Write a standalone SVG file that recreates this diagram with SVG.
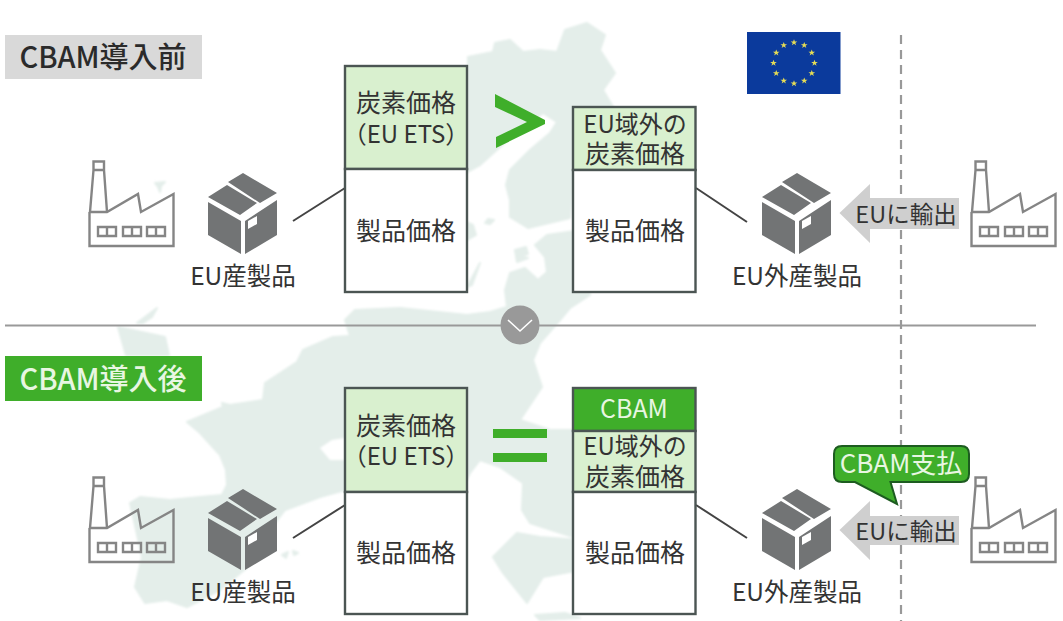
<svg xmlns="http://www.w3.org/2000/svg" width="1063" height="621" viewBox="0 0 1063 621">
<style>
text{font-family:"Noto Sans CJK JP","Noto Sans",sans-serif;fill:#333;text-anchor:middle}
.l{font-size:25px}
.ls{font-size:24px}
.m{font-size:24.500px}
.ex{font-size:23.500px}
.co{font-size:26px}
.w{fill:#e8f6e2}
.t{font-size:29px;font-weight:500}
.cell{stroke:#4b5553;stroke-width:2.400}
.pale{fill:#d9f0cf}
.wh{fill:#fff}
.gr{fill:#3fae2a}
.map{fill:#e4eeea;stroke:#e4eeea;stroke-width:2;stroke-linejoin:round}
.cn{stroke:#444;stroke-width:2;fill:none}
.fa{fill:none;stroke:#858585;stroke-width:2.400}
.bx{fill:#727475}
.arr{fill:#cfcfcf}
.star{fill:#e6dc55}
</style>
<defs>
<filter id="soft" x="-5%" y="-5%" width="110%" height="110%"><feGaussianBlur stdDeviation="1.200"/></filter>
<g id="factory">
<path class="fa" d="M93.500 161.500H104V170H93.500ZM93.500 170L90 212M104 170L107 212M89.500 212H107L138 194L141 212L173.500 194V246H89.500V212"/>
<path class="fa" d="M98 227H116V236H98ZM107 227V236M123 227H141V236H123ZM132 227V236M147 227H165V236H147ZM156 227V236"/>
</g>
<g id="box">
<path class="bx" d="M208 202L241 221V254L208 235ZM245 221L277 200V235L245 254ZM208 197L227 185L257 203L240 215ZM228 182L243 173L277 193L260 203Z"/>
<path fill="#fff" d="M248 221L257 216V224L248 229Z"/>
</g>
<polygon id="star" class="star" points="0,-3.300 .9,-1.100 3.300,-1.100 1.300,.4 2.100,2.800 0,1.300 -2.100,2.800 -1.300,.4 -3.300,-1.100 -.9,-1.100"/>
</defs>

<g id="map" filter="url(#soft)">
<path class="map" d="M468 57L493 52L495 43L510 40L523 52L540 50L557 52L565 30L587 23L605 35L600 50L615 73L603 90L613 107L613 130L573 175L570 218L528 228L510 217L510 200L506 185L510 170L530 150L550 133L557 122L543 113L510 138L480 165L467 172Z"/>
<path class="map" d="M535 245L547 235L575 231L590 295L570 308L560 320L540 343L533 360L542 387L520 420L550 430L580 430L580 570L543 577L527 603L503 573L493 557L517 533L540 537L580 540L573 537L530 523L522 510L523 483L500 467L480 460L470 473L460 492L345 490L320 497L285 510L262 540L250 565L220 590L187 607L167 600L145 603L135 587L142 557L130 503L140 497L170 500L200 497L222 495L227 485L226 470L220 455L200 433L187 422L223 407L222 403L230 405L263 400L265 383L297 362L303 350L333 337L350 336L345 320L355 310L400 308L467 315L490 312L507 307L505 290L510 273L525 268L538 280L547 272L545 257Z"/>
<path class="wh" d="M320 448L332 440L345 438V460L330 460Z"/>
<path class="map" d="M118 327L165 337L169 355L126 355ZM137 323L157 308L152 317L143 323ZM467 287L480 263L472 285ZM466 222L473 225L476 235L467 240ZM488 219L494 220L490 224L485 223ZM515 250L526 247L528 254L520 256L528 258L517 262ZM282 555L288 552L286 558ZM293 551L298 553L294 555ZM155 183L165 182L161 186L160 192L158 187ZM535 615L565 613L580 618L540 620Z"/>
</g>

<g id="dividers">
<path stroke="#999" stroke-width="2.200" stroke-dasharray="9 6" fill="none" d="M901 35V621"/>
<path stroke="#999" stroke-width="2" fill="none" d="M5 325.500H1036"/>
</g>
<g id="next-marker">
<circle cx="520" cy="325" r="19.500" fill="#999"/>
<path d="M508 320L520 331L532 320" fill="none" stroke="#fff" stroke-width="1.600"/>
</g>

<g id="connectors">
<path class="cn" d="M293 221L345 188M696 188L747 222M293 538L345 505M696 505L747 538"/>
</g>

<g id="badge-before">
<rect x="5" y="35" width="197" height="44" fill="#d9d9d9"/>
<text class="t" x="103" y="68" style="fill:#2b2b2b">CBAM導入前</text>
</g>
<g id="eu-flag">
<rect x="747" y="32" width="93.500" height="62" fill="#0b3a9c"/>
<use href="#star" x="794" y="42.500"/><use href="#star" x="804.250" y="45.250"/><use href="#star" x="811.750" y="52.750"/><use href="#star" x="814.500" y="63"/><use href="#star" x="811.750" y="73.250"/><use href="#star" x="804.250" y="80.750"/><use href="#star" x="794" y="83.500"/><use href="#star" x="783.750" y="80.750"/><use href="#star" x="776.250" y="73.250"/><use href="#star" x="773.500" y="63"/><use href="#star" x="776.250" y="52.750"/><use href="#star" x="783.750" y="45.250"/>
</g>

<g id="factory-eu-before"><use href="#factory"/></g>
<g id="product-eu-before"><use href="#box" x="0" y="0"/><text class="m" x="243" y="285">EU産製品</text></g>
<g id="price-eu-before">
<rect class="cell pale" x="345" y="66" width="122" height="103"/>
<rect class="cell wh" x="345" y="169" width="122" height="123"/>
<text class="l" x="406" y="112">炭素価格<tspan class="ls" x="406" dy="31">（EU ETS）</tspan></text>
<text class="l" x="406" y="240">製品価格</text>
</g>
<g id="gt"><polygon class="gr" points="495,94 545,120 545,124 496,148 496,137 527,122 495,107"/></g>
<g id="price-non-eu-before">
<rect class="cell pale" x="573" y="107" width="122.500" height="63"/>
<rect class="cell wh" x="573" y="170" width="122.500" height="122"/>
<text class="ls" x="635" y="133">EU域外の<tspan class="l" x="635" dy="30">炭素価格</tspan></text>
<text class="l" x="635" y="240">製品価格</text>
</g>
<g id="product-non-eu-before"><use href="#box" x="554" y="0"/><text class="m" x="797" y="285">EU外産製品</text></g>
<g id="export-before">
<polygon class="arr" points="839.500,213 870,184 870,198 959,198 959,229 870,229 870,243"/>
<text class="ex" x="906" y="223">EUに輸出</text>
</g>
<g id="factory-non-eu-before"><use href="#factory" x="882" y="0"/></g>

<g id="badge-after">
<rect x="5" y="356" width="197" height="45" fill="#3fae2a"/>
<text class="t w" x="103" y="390">CBAM導入後</text>
</g>
<g id="factory-eu-after"><use href="#factory" x="0" y="316"/></g>
<g id="product-eu-after"><use href="#box" x="0" y="316"/><text class="m" x="243" y="601">EU産製品</text></g>
<g id="price-eu-after">
<rect class="cell pale" x="345" y="388" width="122" height="104"/>
<rect class="cell wh" x="345" y="492" width="122" height="122"/>
<text class="l" x="406" y="435">炭素価格<tspan class="ls" x="406" dy="30">（EU ETS）</tspan></text>
<text class="l" x="406" y="562">製品価格</text>
</g>
<g id="eq"><rect class="gr" x="493" y="429" width="54" height="9"/><rect class="gr" x="493" y="453" width="54" height="9"/></g>
<g id="price-non-eu-after">
<rect class="cell gr" x="573" y="388" width="122.500" height="43"/>
<rect class="cell pale" x="573" y="431" width="122.500" height="61"/>
<rect class="cell wh" x="573" y="492" width="122.500" height="122"/>
<text class="l w" x="634" y="418">CBAM</text>
<text class="ls" x="635" y="455">EU域外の<tspan class="l" x="635" dy="31">炭素価格</tspan></text>
<text class="l" x="635" y="562">製品価格</text>
</g>
<g id="product-non-eu-after"><use href="#box" x="554" y="316"/><text class="m" x="797" y="601">EU外産製品</text></g>
<g id="export-after">
<polygon class="arr" points="839.500,530 870,501 870,516 959,516 959,545 870,545 870,560"/>
<text class="ex" x="906" y="540">EUに輸出</text>
</g>
<g id="factory-non-eu-after"><use href="#factory" x="882" y="316"/></g>
<g id="callout">
<path d="M842 446H961Q969 446 969 454V474Q969 482 961 482H890.500L897 504L855 482H842Q834 482 834 474V454Q834 446 842 446Z" fill="#3fae2a" stroke="#1d5c20" stroke-width="2"/>
<text class="co w" x="901" y="473">CBAM支払</text>
</g>
</svg>
